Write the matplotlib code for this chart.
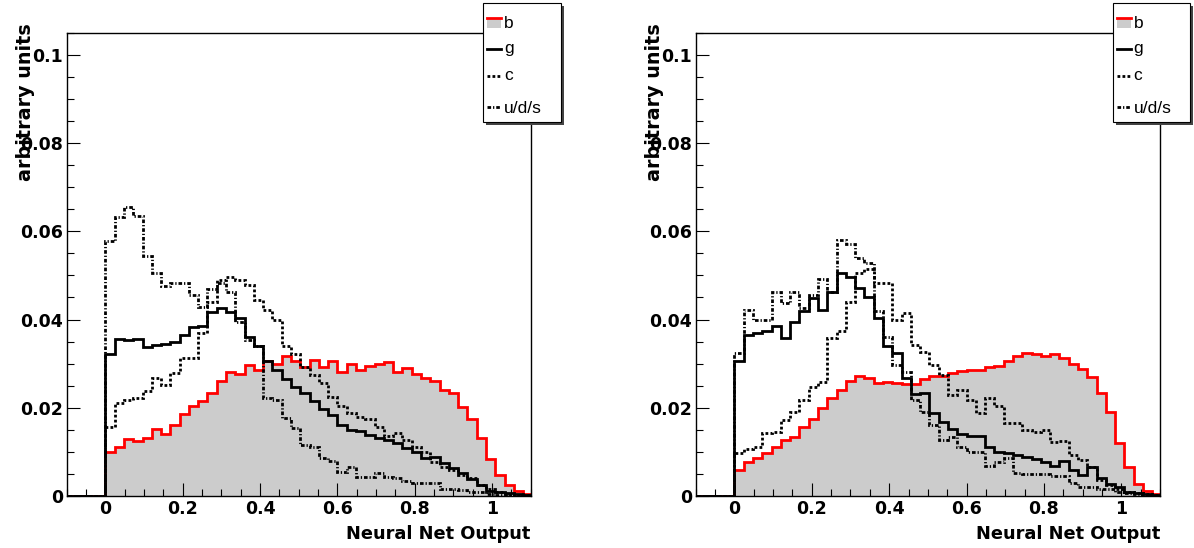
import numpy as np
import matplotlib
matplotlib.use('Agg')
import matplotlib.pyplot as plt
from matplotlib.patches import Rectangle
from matplotlib.lines import Line2D
from matplotlib.ticker import MultipleLocator, FuncFormatter

W, H = 1194, 548
BIN = 0.024          # bin width, first bin starts at 0
N_EMPTY = 5          # empty bins drawn below zero

# normalised NN output, left plot
b_left = [0.0100, 0.0112, 0.0129, 0.0125, 0.0131, 0.0151, 0.0140, 0.0161, 0.0185, 0.0204,
          0.0216, 0.0233, 0.0261, 0.0280, 0.0276, 0.0297, 0.0286, 0.0307, 0.0299, 0.0317,
          0.0305, 0.0293, 0.0308, 0.0292, 0.0305, 0.0280, 0.0299, 0.0286, 0.0295, 0.0299,
          0.0304, 0.0282, 0.0290, 0.0277, 0.0268, 0.0261, 0.0240, 0.0233, 0.0201, 0.0174,
          0.0131, 0.0083, 0.0048, 0.0025, 0.0011, 0.0005]
g_left = [0.0322, 0.0355, 0.0354, 0.0355, 0.0337, 0.0342, 0.0345, 0.0348, 0.0364, 0.0382,
          0.0386, 0.0416, 0.0426, 0.0418, 0.0404, 0.0361, 0.0341, 0.0307, 0.0286, 0.0265,
          0.0246, 0.0233, 0.0216, 0.0197, 0.0184, 0.0161, 0.0150, 0.0148, 0.0138, 0.0131,
          0.0127, 0.0119, 0.0108, 0.0100, 0.0085, 0.0089, 0.0074, 0.0063, 0.0051, 0.0039,
          0.0025, 0.0011, 0.0008, 0.0006, 0.0004, 0.0003]
c_left = [0.0157, 0.0210, 0.0218, 0.0222, 0.0237, 0.0267, 0.0252, 0.0278, 0.0312, 0.0312,
          0.0369, 0.0440, 0.0490, 0.0496, 0.0490, 0.0478, 0.0444, 0.0422, 0.0399, 0.0339,
          0.0322, 0.0293, 0.0274, 0.0256, 0.0225, 0.0204, 0.0189, 0.0178, 0.0174, 0.0157,
          0.0136, 0.0142, 0.0127, 0.0110, 0.0100, 0.0078, 0.0066, 0.0059, 0.0048, 0.0040,
          0.0025, 0.0015, 0.0008, 0.0005, 0.0003, 0.0002]
uds_left = [0.0577, 0.0633, 0.0656, 0.0635, 0.0543, 0.0505, 0.0475, 0.0482, 0.0483, 0.0456,
            0.0428, 0.0469, 0.0482, 0.0463, 0.0395, 0.0354, 0.0339, 0.0222, 0.0218, 0.0176,
            0.0153, 0.0116, 0.0112, 0.0087, 0.0080, 0.0055, 0.0066, 0.0044, 0.0044, 0.0051,
            0.0044, 0.0041, 0.0034, 0.0030, 0.0029, 0.0030, 0.0015, 0.0015, 0.0013, 0.0009,
            0.0008, 0.0005, 0.0003, 0.0002, 0.0001, 0.0001]

# right plot
b_right = [0.0059, 0.0076, 0.0085, 0.0097, 0.0112, 0.0127, 0.0133, 0.0156, 0.0174, 0.0199,
           0.0222, 0.0240, 0.0261, 0.0271, 0.0267, 0.0256, 0.0258, 0.0256, 0.0254, 0.0254,
           0.0265, 0.0271, 0.0271, 0.0278, 0.0284, 0.0286, 0.0286, 0.0292, 0.0295, 0.0305,
           0.0317, 0.0325, 0.0322, 0.0317, 0.0322, 0.0312, 0.0299, 0.0287, 0.0269, 0.0233,
           0.0191, 0.0119, 0.0065, 0.0027, 0.0012, 0.0005]
g_right = [0.0305, 0.0365, 0.0369, 0.0373, 0.0386, 0.0358, 0.0395, 0.0420, 0.0448, 0.0422,
           0.0463, 0.0506, 0.0496, 0.0471, 0.0452, 0.0403, 0.0339, 0.0324, 0.0267, 0.0231,
           0.0234, 0.0187, 0.0168, 0.0151, 0.0141, 0.0136, 0.0136, 0.0110, 0.0100, 0.0098,
           0.0093, 0.0089, 0.0083, 0.0078, 0.0068, 0.0080, 0.0059, 0.0048, 0.0065, 0.0040,
           0.0027, 0.0020, 0.0010, 0.0007, 0.0005, 0.0003]
c_right = [0.0097, 0.0106, 0.0112, 0.0142, 0.0146, 0.0172, 0.0191, 0.0218, 0.0248, 0.0259,
           0.0358, 0.0373, 0.0440, 0.0505, 0.0515, 0.0482, 0.0483, 0.0399, 0.0414, 0.0342,
           0.0327, 0.0297, 0.0274, 0.0229, 0.0240, 0.0218, 0.0187, 0.0222, 0.0203, 0.0165,
           0.0165, 0.0150, 0.0146, 0.0150, 0.0123, 0.0125, 0.0093, 0.0082, 0.0066, 0.0036,
           0.0025, 0.0015, 0.0010, 0.0006, 0.0004, 0.0002]
uds_right = [0.0324, 0.0422, 0.0399, 0.0399, 0.0463, 0.0437, 0.0463, 0.0426, 0.0455, 0.0491,
             0.0463, 0.0580, 0.0571, 0.0539, 0.0528, 0.0420, 0.0360, 0.0297, 0.0280, 0.0218,
             0.0190, 0.0161, 0.0127, 0.0134, 0.0110, 0.0100, 0.0100, 0.0069, 0.0078, 0.0085,
             0.0051, 0.0050, 0.0050, 0.0050, 0.0046, 0.0046, 0.0029, 0.0021, 0.0021, 0.0015,
             0.0015, 0.0010, 0.0006, 0.0004, 0.0002, 0.0001]

labels = ['b', 'g', 'c', 'u/d/s']

RED = '#ff0000'
GREY = '#cccccc'
DOT = (0, (1.0, 0.8))
DASHDOT = (0, (1.3, 0.7, 0.45, 0.7))
LW = 2.0
TICKFONT = 'DejaVu Sans'

edges = np.arange(-N_EMPTY, len(b_left) + 1) * BIN


def pad(vals):
    return np.concatenate([np.zeros(N_EMPTY), vals])


def px_box(x0, y0, x1, y1):
    # pixel box (top-left origin) -> figure fraction rect
    return [x0 / W, 1 - y1 / H, (x1 - x0) / W, (y1 - y0) / H]


def fx(x):
    return x / W


def fy(y):
    return 1 - y / H


def draw_panel(ax, b, g, c, uds):
    ax.stairs(pad(b), edges, baseline=0, fill=True, facecolor=GREY, edgecolor='none', zorder=1)
    ax.stairs(pad(b), edges, baseline=0, color=RED, lw=LW, zorder=2)
    ax.stairs(pad(g), edges, baseline=0, color='black', lw=LW, zorder=3)
    ax.stairs(pad(c), edges, baseline=0, color='black', lw=LW, linestyle=DOT, zorder=3)
    ax.stairs(pad(uds), edges, baseline=0, color='black', lw=LW, linestyle=DASHDOT, zorder=3)

    ax.set_xlim(-0.1, 1.1)
    ax.set_ylim(0, 0.105)
    ax.xaxis.set_major_locator(MultipleLocator(0.2))
    ax.xaxis.set_minor_locator(MultipleLocator(0.05))
    ax.yaxis.set_major_locator(MultipleLocator(0.02))
    ax.yaxis.set_minor_locator(MultipleLocator(0.005))
    fmt = FuncFormatter(lambda v, p: '%g' % round(v, 4))
    ax.xaxis.set_major_formatter(fmt)
    ax.yaxis.set_major_formatter(fmt)
    ax.tick_params(which='both', direction='in', top=False, right=False, width=0.8)
    ax.tick_params(which='major', length=9.5)
    ax.tick_params(which='minor', length=4.8)
    ax.tick_params(axis='y', pad=2.5)
    ax.tick_params(axis='x', pad=3.0)
    for lab in ax.get_xticklabels() + ax.get_yticklabels():
        lab.set_fontfamily(TICKFONT)
        lab.set_fontweight('bold')
        lab.set_fontsize(12.5)
    for sp in ax.spines.values():
        sp.set_linewidth(1.0)
    ax.set_axisbelow(False)


def draw_legend(fig, x0):
    # box in pixels, ROOT-style with a drop shadow
    y0, w, h = 3.3, 77.7, 119
    fig.add_artist(Rectangle((fx(x0 + 3), fy(y0 + h + 3)), w / W, h / H,
                             transform=fig.transFigure, facecolor='#444444',
                             edgecolor='none', zorder=10))
    fig.add_artist(Rectangle((fx(x0), fy(y0 + h)), w / W, h / H,
                             transform=fig.transFigure, facecolor='white',
                             edgecolor='black', lw=0.8, zorder=11))
    sx0, sx1 = x0 + 4, x0 + 18
    # b: grey box with red top edge
    fig.add_artist(Rectangle((fx(sx0), fy(28)), (sx1 - sx0) / W, 10 / H,
                             transform=fig.transFigure, facecolor=GREY,
                             edgecolor='none', zorder=12))
    fig.add_artist(Line2D([fx(sx0), fx(sx1)], [fy(17.5), fy(17.5)], transform=fig.transFigure,
                          color=RED, lw=LW, zorder=13))
    fig.add_artist(Line2D([fx(sx0), fx(sx1)], [fy(48.5), fy(48.5)], transform=fig.transFigure,
                          color='black', lw=LW, zorder=13))
    fig.add_artist(Line2D([fx(sx0), fx(sx1)], [fy(76), fy(76)], transform=fig.transFigure,
                          color='black', lw=LW, linestyle=DOT, zorder=13))
    fig.add_artist(Line2D([fx(sx0), fx(sx1)], [fy(107), fy(107)], transform=fig.transFigure,
                          color='black', lw=LW, linestyle=DASHDOT, zorder=13))
    for lab, base in zip(labels, [28.3, 53.3, 80, 113.3]):
        fig.text(fx(x0 + 21), fy(base), lab, ha='left', va='baseline',
                 fontsize=12.5, family='Liberation Sans', zorder=14)


fig = plt.figure(figsize=(W / 100, H / 100), dpi=100)

panels = [
    (66.7, 530.8, b_left, g_left, c_left, uds_left),
    (695.7, 1160.0, b_right, g_right, c_right, uds_right),
]
for x0, x1, b, g, c, uds in panels:
    ax = fig.add_axes(px_box(x0, 32.7, x1, 496))
    draw_panel(ax, b, g, c, uds)
    fig.text(fx(x1), fy(539), 'Neural Net Output', ha='right', va='baseline',
             fontsize=12.8, fontweight='bold', family=TICKFONT)
    fig.text(fx(x0 - 41.5), fy(102), 'arbitrary units', rotation=90, ha='center',
             va='center', fontsize=13.8, fontweight='bold', family=TICKFONT)
    draw_legend(fig, x1 - 47.5)

fig.savefig('out.png', dpi=100)
